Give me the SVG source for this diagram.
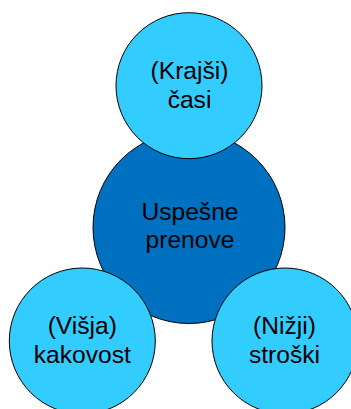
<svg xmlns="http://www.w3.org/2000/svg" width="351" height="409" viewBox="0 0 351 409">
<style>
  .sat { fill: #33CCFF; stroke: #000; stroke-width: 1; }
  .core { fill: #0070C0; stroke: #000; stroke-width: 1; }
  .lbl { font-family: "Liberation Sans", Arial, sans-serif; font-size: 24.6px; fill: #000; text-anchor: middle; }
</style>
<rect width="351" height="409" fill="#fff"/>
<g id="connectors"></g>
<g id="node-core">
  <circle class="core" cx="189" cy="227.5" r="96"/>
  <text class="lbl" x="190" y="219.5">Uspešne</text>
  <text class="lbl" x="190" y="248">prenove</text>
</g>
<g id="node-top">
  <circle class="sat" cx="189" cy="85.7" r="73"/>
  <text class="lbl" x="189.5" y="79">(Krajši)</text>
  <text class="lbl" x="189.5" y="107.5">časi</text>
</g>
<g id="node-left">
  <circle class="sat" cx="82.3" cy="341" r="73"/>
  <text class="lbl" x="82.3" y="334">(Višja)</text>
  <text class="lbl" x="82.3" y="362.7">kakovost</text>
</g>
<g id="node-right">
  <circle class="sat" cx="285" cy="341" r="73"/>
  <text class="lbl" x="284.5" y="334">(Nižji)</text>
  <text class="lbl" x="284.5" y="362.7">stroški</text>
</g>
</svg>
